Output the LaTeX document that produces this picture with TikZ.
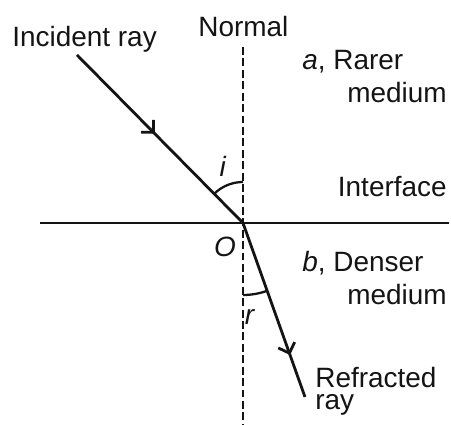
\documentclass[tikz,border=0pt]{standalone}
\usepackage{fontspec}
\setmainfont{Liberation Sans}
\usepackage{tikz}
\usetikzlibrary{arrows.meta}
\usetikzlibrary{decorations.markings}
\definecolor{inkblack}{RGB}{20,20,20}

\begin{document}
\begin{tikzpicture}[x=0.02cm,y=0.02cm,
    lbl/.style={inner sep=0pt,font=\fontsize{15.9}{19}\selectfont,text=inkblack},
    lightray/.style={inkblack,line width=1.6pt},
    midarrow/.style={postaction={decorate},decoration={markings,
      mark=at position #1 with {\arrow{Straight Barb[angle=90:7pt]}}}}]
  \useasboundingbox (0,0) rectangle (451,425);
  % point of incidence and end points
  \coordinate (O) at (243,202);
  \coordinate (inc) at (77,370);
  \coordinate (refr) at (305,28);
  \coordinate (ntop) at (243,378);
  \coordinate (nbot) at (243,0);
  \coordinate (ileft) at (40,202);
  \coordinate (iright) at (449,202);
  % normal and interface
  \draw[inkblack,line width=1.2pt,dash pattern=on 4.5pt off 2pt] (ntop) -- (nbot);
  \draw[lightray] (ileft) -- (iright);
  % the two rays
  \draw[lightray,midarrow=0.47] (inc) -- (O);
  \draw[lightray,midarrow=0.76] (O) -- (refr);
  % angles
  \draw[inkblack,line width=1.3pt] ([shift={(90:41)}]O) arc[start angle=90,end angle=134.7,radius=41];
  \draw[inkblack,line width=1.3pt] ([shift={(270:72)}]O) arc[start angle=270,end angle=289.6,radius=72];
  % labels
  \node[lbl,anchor=base west] (incident) at (12,378) {Incident ray};
  \node[lbl,anchor=base west] (normal) at (198,388) {Normal};
  \node[lbl,anchor=base west] (rarer) at (302,355) {\textit{a}, Rarer};
  \node[lbl,anchor=base east] (rarermed) at (447,322) {medium};
  \node[lbl,anchor=base east] (interface) at (447,228) {Interface};
  \node[lbl,anchor=base west] (denser) at (302,153) {\textit{b}, Denser};
  \node[lbl,anchor=base east] (densermed) at (447,120) {medium};
  \node[lbl,font=\fontsize{15.9}{12.5}\selectfont,align=left,anchor=north west]
    (refracted) at (315,58.5) {Refracted\\ray};
  \node[lbl,anchor=base] (anglei) at (223,248) {\textit{i}};
  \node[lbl,anchor=base] (pointO) at (225,168) {\textit{O}};
  \node[lbl,anchor=base] (angler) at (250,100) {\textit{r}};
\end{tikzpicture}
\end{document}
